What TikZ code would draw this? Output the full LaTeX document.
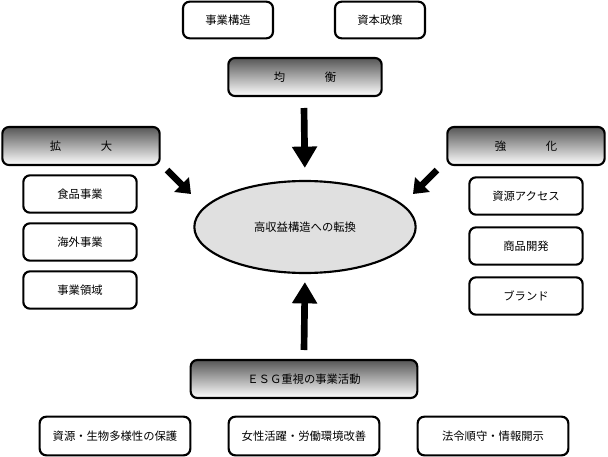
\documentclass[tikz,border=0pt]{standalone}
\usepackage{fontspec}
\setmainfont{Noto Sans CJK JP}
\usetikzlibrary{shapes.geometric,arrows.meta}
\tikzset{
  item/.style={draw,line width=1.6pt,rounded corners=5pt,fill=white,font=\fontsize{8.5}{10}\selectfont},
  heading/.style={item,top color=black!66,bottom color=white,minimum height=28.5pt},
  bigarrow/.style={line width=5pt,-{Triangle[length=16pt,width=18pt]}},
  smallarrow/.style={line width=5pt,-{Triangle[length=10pt,width=15pt]}}
}
\begin{document}
\begin{tikzpicture}[x=0.75pt,y=-0.75pt]
   \useasboundingbox (0,0) rectangle (608,457);
   % top
   \node[item,minimum width=67.5pt,minimum height=27.5pt] (struct) at (228,20) {事業構造};
   \node[item,minimum width=67.5pt,minimum height=27.5pt] (policy) at (380,20) {資本政策};
   \node[heading,minimum width=115pt] (bal) at (305,77) {均\hspace{3.5em}衡};
   % left
   \node[heading,minimum width=118pt] (expand) at (81,146) {拡\hspace{3.5em}大};
   \node[item,minimum width=85pt,minimum height=28pt] (food) at (80,194) {食品事業};
   \node[item,minimum width=85pt,minimum height=28pt] (abroad) at (80,242) {海外事業};
   \node[item,minimum width=85pt,minimum height=28pt] (domain) at (80,290) {事業領域};
   % right
   \node[heading,minimum width=118pt] (boost) at (526,146) {強\hspace{3.5em}化};
   \node[item,minimum width=85pt,minimum height=28pt] (access) at (526,196) {資源アクセス};
   \node[item,minimum width=85pt,minimum height=28pt] (product) at (526,246) {商品開発};
   \node[item,minimum width=85pt,minimum height=28pt] (brand) at (526,296) {ブランド};
   % center
   \node[ellipse,draw,line width=1.6pt,fill=black!12,minimum width=166pt,minimum height=69pt,
         font=\fontsize{8.5}{10}\selectfont] (goal) at (305,227) {高収益構造への転換};
   % bottom
   \node[heading,minimum width=170pt] (esg) at (304,379) {ＥＳＧ重視の事業活動};
   \node[item,minimum width=113pt,minimum height=29pt] (nature) at (115,436) {資源・生物多様性の保護};
   \node[item,minimum width=113pt,minimum height=29pt] (women) at (304,436) {女性活躍・労働環境改善};
   \node[item,minimum width=113pt,minimum height=29pt] (comply) at (493,436) {法令順守・情報開示};
   % arrows
   \coordinate (topfrom) at (304,108);
   \coordinate (botfrom) at (304,350);
   \coordinate (lfrom) at (167,170);
   \coordinate (lto) at (191,194);
   \coordinate (rfrom) at (437,170);
   \coordinate (rto) at (413,194);
   \draw[bigarrow,shorten >=9pt] (topfrom) -- (goal.north);
   \draw[bigarrow,shorten >=6pt] (botfrom) -- (goal.south);
   \draw[smallarrow] (lfrom) -- (lto);
   \draw[smallarrow] (rfrom) -- (rto);
\end{tikzpicture}
\end{document}
